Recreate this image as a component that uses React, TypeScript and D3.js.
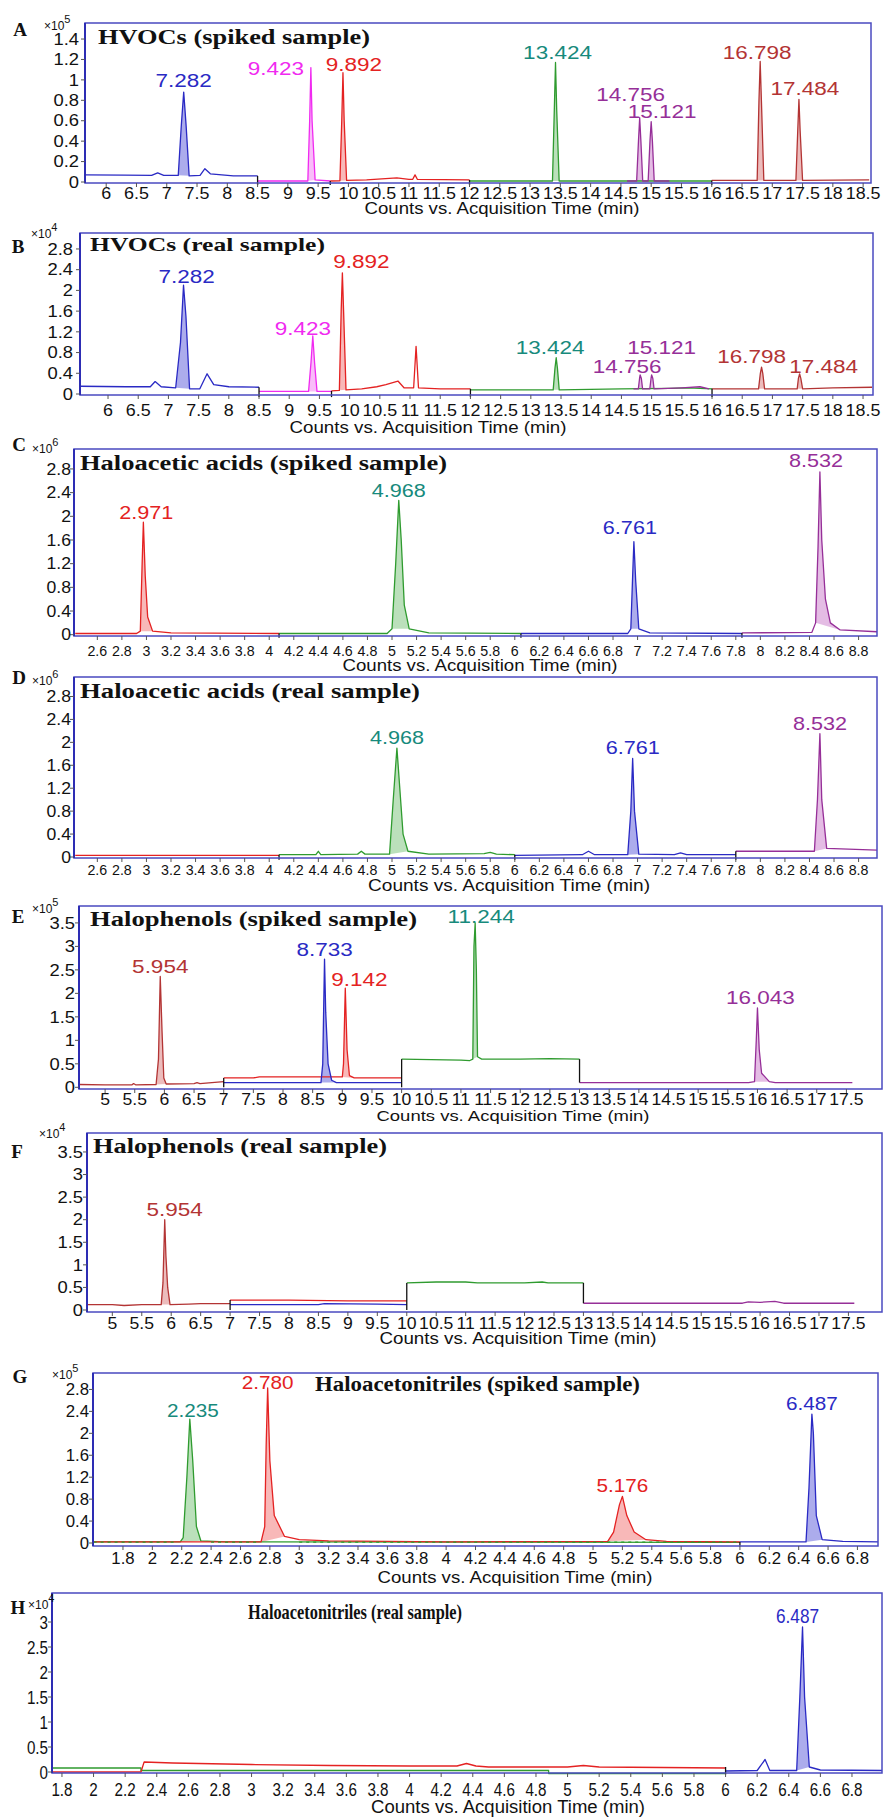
import React from 'react';
import * as d3 from 'd3';

type Pt = [number, number];
interface Trace { c: string; pts: Pt[]; dash?: string }
interface Peak { tr: number; t0: number; t1: number; label: string; lc: string }

const COL: Record<string, string> = {
  blue: '#2a2ac4', magenta: '#f02af0', red: '#e42222', green: '#2f9b2f', teal: '#178a7c',
  purple: '#962f98', brown: '#b33434', black: '#000000',
};
const FILL: Record<string, string> = {
  blue: '#9090e6', magenta: '#f7a6f7', red: '#f6a0a0', green: '#a4d6a4', purple: '#dba6db', brown: '#e6a6a6',
};

// ---------------- Panel A: HVOCs (spiked) x10^5 ----------------
const A_X_TICKS = [6, 6.5, 7, 7.5, 8, 8.5, 9, 9.5, 10, 10.5, 11, 11.5, 12, 12.5, 13, 13.5, 14, 14.5, 15, 15.5, 16, 16.5, 17, 17.5, 18, 18.5];
const A_Y_TICKS = [0, 0.2, 0.4, 0.6, 0.8, 1, 1.2, 1.4];
const A_TRACES: Trace[] = [
  { c: 'blue', pts: [[5.65, 0.07], [6.3, 0.068], [6.75, 0.065], [6.85, 0.09], [6.95, 0.065], [7.19, 0.065], [7.24, 0.55], [7.28, 0.88], [7.32, 0.55], [7.37, 0.06], [7.55, 0.065], [7.63, 0.13], [7.72, 0.08], [8.1, 0.06], [8.5, 0.06]] },
  { c: 'magenta', pts: [[8.5, 0.01], [9.33, 0.01], [9.36, 0.6], [9.38, 1.12], [9.40, 0.6], [9.45, 0.02], [9.7, 0.01]] },
  { c: 'red', pts: [[9.7, 0.01], [9.86, 0.012], [9.89, 0.6], [9.91, 1.07], [9.93, 0.6], [9.97, 0.015], [10.3, 0.02], [10.8, 0.04], [11.0, 0.025], [11.06, 0.025], [11.1, 0.07], [11.14, 0.025], [12, 0.02]] },
  { c: 'green', pts: [[12, 0.01], [13.37, 0.01], [13.40, 0.7], [13.42, 1.17], [13.44, 0.7], [13.48, 0.01], [16, 0.01]] },
  { c: 'purple', pts: [[14.6, 0.01], [14.76, 0.01], [14.79, 0.4], [14.81, 0.63], [14.83, 0.4], [14.86, 0.01], [14.95, 0.01], [14.98, 0.4], [15.0, 0.59], [15.02, 0.4], [15.05, 0.01], [15.3, 0.01]] },
  { c: 'brown', pts: [[16, 0.015], [16.75, 0.015], [16.78, 0.8], [16.8, 1.18], [16.82, 0.8], [16.86, 0.015], [17.39, 0.015], [17.42, 0.5], [17.44, 0.81], [17.46, 0.5], [17.5, 0.015], [18.6, 0.02]] },
];
const A_PEAKS: Peak[] = [
  { tr: 0, t0: 7.19, t1: 7.37, label: '7.282', lc: 'blue' },
  { tr: 1, t0: 9.33, t1: 9.45, label: '9.423', lc: 'magenta' },
  { tr: 2, t0: 9.86, t1: 9.97, label: '9.892', lc: 'red' },
  { tr: 3, t0: 13.37, t1: 13.48, label: '13.424', lc: 'teal' },
  { tr: 4, t0: 14.76, t1: 14.86, label: '14.756', lc: 'purple' },
  { tr: 4, t0: 14.95, t1: 15.05, label: '15.121', lc: 'purple' },
  { tr: 5, t0: 16.75, t1: 16.86, label: '16.798', lc: 'brown' },
  { tr: 5, t0: 17.39, t1: 17.5, label: '17.484', lc: 'brown' },
];
const A_STEPS: number[][] = [[8.5, 0.06, -0.03], [9.7, 0.01, -0.03], [12, 0.02, -0.03], [16, 0.015, -0.03]];

// ---------------- Panel B: HVOCs (real) x10^4 ----------------
const B_X_TICKS = A_X_TICKS;
const B_Y_TICKS = [0, 0.4, 0.8, 1.2, 1.6, 2, 2.4, 2.8];
const B_TRACES: Trace[] = [
  { c: 'blue', pts: [[5.54, 0.15], [6.3, 0.14], [6.7, 0.14], [6.78, 0.24], [6.88, 0.14], [7.12, 0.12], [7.2, 1.0], [7.25, 2.1], [7.29, 1.5], [7.35, 0.1], [7.52, 0.1], [7.64, 0.39], [7.75, 0.18], [8.0, 0.14], [8.5, 0.13]] },
  { c: 'magenta', pts: [[8.5, 0.05], [9.32, 0.05], [9.36, 0.6], [9.39, 1.12], [9.42, 0.6], [9.46, 0.05], [9.7, 0.05]] },
  { c: 'red', pts: [[9.7, 0.06], [9.83, 0.07], [9.86, 1.6], [9.88, 2.34], [9.9, 1.6], [9.94, 0.08], [10.2, 0.1], [10.45, 0.14], [10.6, 0.18], [10.8, 0.25], [10.9, 0.12], [11.06, 0.12], [11.1, 0.92], [11.14, 0.12], [11.5, 0.1], [12, 0.1]] },
  { c: 'green', pts: [[12, 0.08], [13.37, 0.08], [13.4, 0.5], [13.42, 0.7], [13.44, 0.5], [13.47, 0.08], [14.5, 0.1], [15.3, 0.11], [15.6, 0.12], [16, 0.1]] },
  { c: 'purple', pts: [[14.7, 0.1], [14.78, 0.1], [14.8, 0.3], [14.81, 0.37], [14.83, 0.3], [14.85, 0.1], [14.97, 0.1], [14.99, 0.3], [15.0, 0.37], [15.02, 0.3], [15.04, 0.1], [15.5, 0.12], [15.8, 0.14], [15.95, 0.1]] },
  { c: 'brown', pts: [[16, 0.1], [16.77, 0.1], [16.8, 0.4], [16.82, 0.52], [16.84, 0.4], [16.87, 0.1], [17.41, 0.1], [17.43, 0.3], [17.45, 0.39], [17.47, 0.3], [17.5, 0.1], [18.0, 0.12], [18.65, 0.13]] },
];
const B_PEAKS: Peak[] = [
  { tr: 0, t0: 7.12, t1: 7.35, label: '7.282', lc: 'blue' },
  { tr: 1, t0: 9.32, t1: 9.46, label: '9.423', lc: 'magenta' },
  { tr: 2, t0: 9.83, t1: 9.94, label: '9.892', lc: 'red' },
  { tr: 3, t0: 13.37, t1: 13.47, label: '13.424', lc: 'teal' },
  { tr: 4, t0: 14.78, t1: 14.85, label: '14.756', lc: 'purple' },
  { tr: 4, t0: 14.97, t1: 15.04, label: '15.121', lc: 'purple' },
  { tr: 5, t0: 16.77, t1: 16.87, label: '16.798', lc: 'brown' },
  { tr: 5, t0: 17.41, t1: 17.5, label: '17.484', lc: 'brown' },
];
const B_STEPS: number[][] = [[8.5, 0.13, -0.06], [9.7, 0.06, -0.06], [12, 0.1, -0.06], [16, 0.1, -0.06]];

// ---------------- Panel C: Haloacetic acids (spiked) x10^6 ----------------
const C_X_TICKS = [2.6, 2.8, 3, 3.2, 3.4, 3.6, 3.8, 4, 4.2, 4.4, 4.6, 4.8, 5, 5.2, 5.4, 5.6, 5.8, 6, 6.2, 6.4, 6.6, 6.8, 7, 7.2, 7.4, 7.6, 7.8, 8, 8.2, 8.4, 8.6, 8.8];
const C_Y_TICKS = [0, 0.4, 0.8, 1.2, 1.6, 2, 2.4, 2.8];
const C_TRACES: Trace[] = [
  { c: 'red', pts: [[2.42, 0.02], [2.92, 0.02], [2.95, 0.06], [2.965, 1.2], [2.975, 1.9], [2.99, 1.0], [3.01, 0.3], [3.05, 0.06], [3.2, 0.03], [4.08, 0.02]] },
  { c: 'green', pts: [[4.08, 0.02], [4.96, 0.02], [5.0, 0.1], [5.03, 1.2], [5.055, 2.27], [5.075, 1.6], [5.1, 0.5], [5.14, 0.1], [5.3, 0.03], [6.05, 0.02]] },
  { c: 'blue', pts: [[6.05, 0.02], [6.92, 0.02], [6.945, 0.1], [6.96, 1.0], [6.97, 1.57], [6.985, 0.9], [7.01, 0.1], [7.1, 0.03], [7.85, 0.02]] },
  { c: 'purple', pts: [[7.85, 0.03], [8.42, 0.04], [8.45, 0.2], [8.47, 1.5], [8.485, 2.75], [8.5, 1.6], [8.53, 0.6], [8.57, 0.2], [8.65, 0.08], [8.95, 0.05]] },
];
const C_PEAKS: Peak[] = [
  { tr: 0, t0: 2.95, t1: 3.05, label: '2.971', lc: 'red' },
  { tr: 1, t0: 5.0, t1: 5.14, label: '4.968', lc: 'teal' },
  { tr: 2, t0: 6.945, t1: 7.01, label: '6.761', lc: 'blue' },
  { tr: 3, t0: 8.45, t1: 8.65, label: '8.532', lc: 'purple' },
];
const C_STEPS: number[][] = [[4.08, 0.02, -0.05], [6.05, 0.02, -0.05], [7.85, 0.03, -0.05]];

// ---------------- Panel D: Haloacetic acids (real) x10^6 ----------------
const D_X_TICKS = C_X_TICKS;
const D_Y_TICKS = C_Y_TICKS;
const D_TRACES: Trace[] = [
  { c: 'red', pts: [[2.42, 0.03], [3.5, 0.03], [4.08, 0.03]] },
  { c: 'green', pts: [[4.08, 0.04], [4.38, 0.04], [4.4, 0.1], [4.42, 0.04], [4.72, 0.05], [4.75, 0.1], [4.78, 0.05], [4.98, 0.05], [5.01, 1.0], [5.04, 1.9], [5.06, 1.3], [5.09, 0.4], [5.13, 0.1], [5.3, 0.05], [5.75, 0.06], [5.8, 0.08], [5.85, 0.05], [6.0, 0.04]] },
  { c: 'blue', pts: [[6.0, 0.03], [6.55, 0.04], [6.6, 0.1], [6.65, 0.04], [6.92, 0.04], [6.945, 0.8], [6.96, 1.72], [6.975, 0.8], [7.01, 0.05], [7.3, 0.04], [7.35, 0.07], [7.4, 0.04], [7.8, 0.04]] },
  { c: 'purple', pts: [[7.8, 0.1], [8.44, 0.1], [8.465, 1.0], [8.485, 2.15], [8.5, 1.0], [8.54, 0.15], [8.95, 0.12]] },
];
const D_PEAKS: Peak[] = [
  { tr: 1, t0: 4.98, t1: 5.13, label: '4.968', lc: 'teal' },
  { tr: 2, t0: 6.92, t1: 7.01, label: '6.761', lc: 'blue' },
  { tr: 3, t0: 8.44, t1: 8.54, label: '8.532', lc: 'purple' },
];
const D_STEPS: number[][] = [[4.08, 0.04, -0.05], [6.0, 0.04, -0.05], [7.8, 0.1, -0.05]];

// ---------------- Panel E: Halophenols (spiked) x10^5 ----------------
const E_X_TICKS = [5, 5.5, 6, 6.5, 7, 7.5, 8, 8.5, 9, 9.5, 10, 10.5, 11, 11.5, 12, 12.5, 13, 13.5, 14, 14.5, 15, 15.5, 16, 16.5, 17, 17.5];
const E_Y_TICKS = [0, 0.5, 1, 1.5, 2, 2.5, 3, 3.5];
const E_TRACES: Trace[] = [
  { c: 'brown', pts: [[4.56, 0.06], [5.0, 0.05], [5.45, 0.05], [5.48, 0.08], [5.52, 0.05], [5.86, 0.06], [5.9, 0.6], [5.93, 2.36], [5.96, 1.2], [5.99, 0.2], [6.03, 0.07], [6.5, 0.08], [6.55, 0.1], [6.6, 0.08], [7.0, 0.12]] },
  { c: 'red', pts: [[7.0, 0.2], [7.5, 0.2], [7.6, 0.22], [8.5, 0.22], [9.0, 0.22], [9.02, 0.5], [9.05, 2.11], [9.08, 0.8], [9.12, 0.25], [9.2, 0.2], [10, 0.2]] },
  { c: 'blue', pts: [[7.0, 0.1], [8.64, 0.1], [8.67, 0.5], [8.69, 2.0], [8.7, 2.73], [8.72, 1.6], [8.76, 0.5], [8.82, 0.15], [8.9, 0.1], [10, 0.1]] },
  { c: 'green', pts: [[10, 0.6], [11.0, 0.58], [11.15, 0.57], [11.2, 0.6], [11.22, 3.0], [11.24, 3.5], [11.26, 2.5], [11.28, 0.65], [11.35, 0.6], [12, 0.6], [12.5, 0.61], [13, 0.6]] },
  { c: 'purple', pts: [[13, 0.1], [15.85, 0.1], [15.95, 0.12], [15.98, 1.0], [16.0, 1.69], [16.03, 0.8], [16.07, 0.3], [16.2, 0.12], [16.3, 0.1], [17.6, 0.1]] },
];
const E_PEAKS: Peak[] = [
  { tr: 0, t0: 5.86, t1: 6.03, label: '5.954', lc: 'brown' },
  { tr: 2, t0: 8.64, t1: 8.9, label: '8.733', lc: 'blue' },
  { tr: 1, t0: 9.0, t1: 9.2, label: '9.142', lc: 'red' },
  { tr: 3, t0: 11.2, t1: 11.28, label: '11.244', lc: 'teal' },
  { tr: 4, t0: 15.95, t1: 16.2, label: '16.043', lc: 'purple' },
];
const E_STEPS: number[][] = [[7, 0, 0.2], [10, 0, 0.6], [13, 0.1, 0.6]];

// ---------------- Panel F: Halophenols (real) x10^4 ----------------
const F_X_TICKS = E_X_TICKS;
const F_Y_TICKS = E_Y_TICKS;
const F_TRACES: Trace[] = [
  { c: 'brown', pts: [[4.57, 0.12], [5.0, 0.12], [5.2, 0.1], [5.5, 0.12], [5.83, 0.12], [5.86, 0.6], [5.89, 2.0], [5.91, 1.2], [5.94, 0.5], [5.98, 0.12], [6.3, 0.13], [6.5, 0.14], [7.0, 0.14]] },
  { c: 'red', pts: [[7.0, 0.22], [8.0, 0.22], [9.0, 0.2], [10.0, 0.2]] },
  { c: 'blue', pts: [[7.0, 0.12], [8.5, 0.12], [8.6, 0.14], [9.5, 0.13], [10.0, 0.12]] },
  { c: 'green', pts: [[10, 0.6], [10.5, 0.62], [11.0, 0.62], [11.2, 0.6], [12.0, 0.6], [12.3, 0.62], [12.4, 0.6], [13, 0.6]] },
  { c: 'purple', pts: [[13, 0.15], [15.7, 0.15], [15.8, 0.18], [16.0, 0.17], [16.25, 0.19], [16.4, 0.15], [17.6, 0.15]] },
];
const F_PEAKS: Peak[] = [{ tr: 0, t0: 5.83, t1: 5.98, label: '5.954', lc: 'brown' }];
const F_STEPS: number[][] = [[7, 0, 0.22], [10, 0, 0.6], [13, 0.15, 0.6]];

// ---------------- Panel G: Haloacetonitriles (spiked) x10^5 ----------------
const G_X_TICKS = [1.8, 2, 2.2, 2.4, 2.6, 2.8, 3, 3.2, 3.4, 3.6, 3.8, 4, 4.2, 4.4, 4.6, 4.8, 5, 5.2, 5.4, 5.6, 5.8, 6, 6.2, 6.4, 6.6, 6.8];
const G_Y_TICKS = [0, 0.4, 0.8, 1.2, 1.6, 2, 2.4, 2.8];
const G_TRACES: Trace[] = [
  { c: 'green', pts: [[1.6, 0.02], [2.19, 0.02], [2.21, 0.1], [2.235, 1.2], [2.255, 2.26], [2.275, 1.5], [2.3, 0.3], [2.33, 0.04], [2.5, 0.02], [6.0, 0.01]] },
  { c: 'red', pts: [[1.6, 0.02], [2.74, 0.02], [2.765, 0.3], [2.775, 1.8], [2.785, 2.83], [2.8, 1.5], [2.83, 0.5], [2.9, 0.12], [3.0, 0.06], [3.2, 0.04], [4.0, 0.02], [5.1, 0.03], [5.14, 0.2], [5.18, 0.7], [5.2, 0.85], [5.23, 0.5], [5.28, 0.2], [5.36, 0.06], [5.5, 0.03], [6.0, 0.02]] },
  { c: 'blue', pts: [[6.0, 0.02], [6.45, 0.02], [6.47, 1.0], [6.49, 2.35], [6.5, 2.0], [6.52, 0.5], [6.56, 0.06], [6.7, 0.03], [6.94, 0.02]] },
  { c: 'green', dash: '3 4', pts: [[1.6, 0.015], [2.15, 0.015]] },
  { c: 'green', dash: '3 4', pts: [[2.4, 0.015], [2.72, 0.015]] },
  { c: 'green', dash: '3 4', pts: [[3.0, 0.015], [6.0, 0.015]] },
];
const G_PEAKS: Peak[] = [
  { tr: 0, t0: 2.19, t1: 2.33, label: '2.235', lc: 'teal' },
  { tr: 1, t0: 2.74, t1: 2.9, label: '2.780', lc: 'red' },
  { tr: 1, t0: 5.1, t1: 5.36, label: '5.176', lc: 'red' },
  { tr: 2, t0: 6.45, t1: 6.56, label: '6.487', lc: 'blue' },
];
const G_STEPS: number[][] = [[6, 0.02, -0.05]];

// ---------------- Panel H: Haloacetonitriles (real) x10^4 ----------------
const H_X_TICKS = G_X_TICKS;
const H_Y_TICKS = [0, 0.5, 1, 1.5, 2, 2.5, 3];
const H_TRACES: Trace[] = [
  { c: 'green', pts: [[1.74, 0.08], [2.3, 0.08], [2.3, 0.03], [4.88, 0.03], [4.88, -0.03], [6, -0.03]] },
  { c: 'red', pts: [[1.74, 0.0], [2.3, 0.0], [2.32, 0.2], [2.5, 0.18], [3.0, 0.15], [3.5, 0.13], [4.0, 0.12], [4.3, 0.12], [4.36, 0.17], [4.42, 0.12], [4.5, 0.1], [5.0, 0.1], [5.1, 0.13], [5.2, 0.1], [6, 0.08]] },
  { c: 'blue', pts: [[6, 0.02], [6.2, 0.03], [6.25, 0.25], [6.28, 0.03], [6.45, 0.03], [6.47, 1.5], [6.487, 2.9], [6.5, 1.5], [6.53, 0.1], [6.6, 0.04], [6.99, 0.03]] },
];
const H_PEAKS: Peak[] = [{ tr: 2, t0: 6.45, t1: 6.53, label: '6.487', lc: 'blue' }];
const H_STEPS: number[][] = [[6, -0.05, 0.1]];

// ---------------- layout (positions / styles only) ----------------
const SANS = 'Liberation Sans, Arial, Helvetica, sans-serif';
const SERIF = 'Liberation Serif, Times New Roman, serif';

interface Layout {
  box: { l: number; t: number; r: number; b: number };
  y0: number; yMax: number; xDom: [number, number];
  letter: string; letterPos: [number, number];
  exp: string; expPos: [number, number];
  title: string; titlePos: [number, number]; titleLen: number; titleSize: number;
  yLabR: number; xLabY: number; countsPos: [number, number]; countsLen: number;
  ySx: number; ySize: number; xSx: number; xSize: number; labSize: number; labSx: number; cSize: number;
  offs: number[][];
}

const PANELS: { L: Layout; xt: number[]; yt: number[]; tr: Trace[]; pk: Peak[]; st: number[][] }[] = [
  {
    xt: A_X_TICKS, yt: A_Y_TICKS, tr: A_TRACES, pk: A_PEAKS, st: A_STEPS,
    L: { box: { l: 85, t: 23, r: 871, b: 183 }, y0: 182, yMax: 1.557, xDom: [5.65, 18.63], letter: 'A', letterPos: [20, 36], exp: '5', expPos: [44, 30],
      title: 'HVOCs (spiked sample)', titlePos: [98, 44], titleLen: 272, titleSize: 20, yLabR: 79, xLabY: 199, countsPos: [502, 214], countsLen: 275,
      ySx: 1.15, ySize: 16, xSx: 1.12, xSize: 16, labSize: 18, labSx: 1.25, cSize: 16,
      offs: [[0, -5.5], [-35, 7.5], [11, -1.5], [2, -3.5], [-9, -16.5], [11, -3.5], [-3, -2.5], [6, -4.5]] },
  },
  {
    xt: B_X_TICKS, yt: B_Y_TICKS, tr: B_TRACES, pk: B_PEAKS, st: B_STEPS,
    L: { box: { l: 80, t: 233, r: 873, b: 395 }, y0: 394, yMax: 3.108, xDom: [5.536, 18.665], letter: 'B', letterPos: [18, 253], exp: '4', expPos: [31, 238],
      title: 'HVOCs (real sample)', titlePos: [90, 251], titleLen: 235, titleSize: 19, yLabR: 73, xLabY: 416, countsPos: [428, 433], countsLen: 277,
      ySx: 1.15, ySize: 16, xSx: 1.12, xSize: 16, labSize: 18, labSx: 1.25, cSize: 16,
      offs: [[3, -2.5], [-10, -0.5], [19, -4.5], [-6, -3.5], [-13, -1.5], [10, -20.5], [-10, -4.5], [24, -0.5]] },
  },
  {
    xt: C_X_TICKS, yt: C_Y_TICKS, tr: C_TRACES, pk: C_PEAKS, st: C_STEPS,
    L: { box: { l: 74, t: 449, r: 877, b: 636 }, y0: 634.7, yMax: 3.137, xDom: [2.41, 8.95], letter: 'C', letterPos: [19, 451], exp: '6', expPos: [32, 453],
      title: 'Haloacetic acids (spiked sample)', titlePos: [80, 470], titleLen: 367, titleSize: 20, yLabR: 71, xLabY: 656, countsPos: [480, 671], countsLen: 275,
      ySx: 1.1, ySize: 16, xSx: 0.95, xSize: 15, labSize: 18, labSx: 1.2, cSize: 16,
      offs: [[3, -3], [0, -3.8], [-4, -7.3], [-4, -4.5]] },
  },
  {
    xt: D_X_TICKS, yt: D_Y_TICKS, tr: D_TRACES, pk: D_PEAKS, st: D_STEPS,
    L: { box: { l: 74, t: 677, r: 877, b: 858 }, y0: 857, yMax: 3.14, xDom: [2.41, 8.95], letter: 'D', letterPos: [19, 684], exp: '6', expPos: [32, 685],
      title: 'Haloacetic acids (real sample)', titlePos: [80, 698], titleLen: 340, titleSize: 20, yLabR: 71, xLabY: 875, countsPos: [509, 891], countsLen: 282,
      ySx: 1.1, ySize: 16, xSx: 0.95, xSize: 15, labSize: 18, labSx: 1.2, cSize: 16,
      offs: [[0, -4], [0, -4], [0, -4]] },
  },
  {
    xt: E_X_TICKS, yt: E_Y_TICKS, tr: E_TRACES, pk: E_PEAKS, st: E_STEPS,
    L: { box: { l: 79, t: 906, r: 882, b: 1089 }, y0: 1087.3, yMax: 3.86, xDom: [4.56, 18.1], letter: 'E', letterPos: [18, 923], exp: '5', expPos: [32, 913],
      title: 'Halophenols (spiked sample)', titlePos: [90, 926], titleLen: 327, titleSize: 20, yLabR: 75, xLabY: 1104.5, countsPos: [513, 1121], countsLen: 273,
      ySx: 1.15, ySize: 16, xSx: 1.1, xSize: 16, labSize: 18, labSx: 1.25, cSize: 15,
      offs: [[0, -3], [0, -3], [14, -2], [6, 0.5], [3, -3.5]] },
  },
  {
    xt: F_X_TICKS, yt: F_Y_TICKS, tr: F_TRACES, pk: F_PEAKS, st: F_STEPS,
    L: { box: { l: 87, t: 1133, r: 882, b: 1312 }, y0: 1310, yMax: 3.92, xDom: [4.57, 18.07], letter: 'F', letterPos: [17, 1158], exp: '4', expPos: [39, 1138],
      title: 'Halophenols (real sample)', titlePos: [93, 1153], titleLen: 294, titleSize: 20, yLabR: 83, xLabY: 1329, countsPos: [518, 1344], countsLen: 277,
      ySx: 1.15, ySize: 16, xSx: 1.1, xSize: 16, labSize: 18, labSx: 1.25, cSize: 16,
      offs: [[10, -3.5]] },
  },
  {
    xt: G_X_TICKS, yt: G_Y_TICKS, tr: G_TRACES, pk: G_PEAKS, st: G_STEPS,
    L: { box: { l: 93, t: 1373, r: 878, b: 1546 }, y0: 1543, yMax: 3.1, xDom: [1.596, 6.94], letter: 'G', letterPos: [20, 1383], exp: '5', expPos: [52, 1379],
      title: 'Haloacetonitriles (spiked sample)', titlePos: [315, 1391], titleLen: 325, titleSize: 20, yLabR: 89, xLabY: 1564, countsPos: [515, 1583], countsLen: 275,
      ySx: 1.05, ySize: 16, xSx: 1.05, xSize: 16, labSize: 18, labSx: 1.15, cSize: 16,
      offs: [[3, -2.5], [0, 1.5], [0, -4], [0, -4]] },
  },
  {
    xt: H_X_TICKS, yt: H_Y_TICKS, tr: H_TRACES, pk: H_PEAKS, st: H_STEPS,
    L: { box: { l: 52, t: 1593, r: 882, b: 1773 }, y0: 1772, yMax: 3.58, xDom: [1.737, 6.99], letter: 'H', letterPos: [18, 1614], exp: '4', expPos: [28, 1609],
      title: 'Haloacetonitriles (real sample)', titlePos: [248, 1619], titleLen: 214, titleSize: 21, yLabR: 48, xLabY: 1796, countsPos: [508, 1813], countsLen: 274,
      ySx: 0.8, ySize: 19, xSx: 0.8, xSize: 19, labSize: 21, labSx: 0.82, cSize: 18,
      offs: [[-5, -4]] },
  },
];

function Panel({ p, idx }: { p: (typeof PANELS)[number]; idx: number }) {
  const { L } = p;
  const x = d3.scaleLinear().domain(L.xDom).range([L.box.l, L.box.r]);
  const y = d3.scaleLinear().domain([0, L.yMax]).range([L.y0, L.box.t]);
  const line = d3.line<Pt>().x((d) => x(d[0])).y((d) => y(d[1]));
  const clipId = `clip${idx}`;
  const fmt = (v: number) => String(v);
  return (
    <g>
      <defs>
        <clipPath id={clipId}>
          <rect x={L.box.l} y={L.box.t} width={L.box.r - L.box.l} height={L.box.b - L.box.t + 4} />
        </clipPath>
      </defs>
      <g clipPath={`url(#${clipId})`}>
        {p.pk.map((k, i) => {
          const pts = p.tr[k.tr].pts.filter((d) => d[0] >= k.t0 && d[0] <= k.t1);
          return <path key={i} d={(line(pts) || '') + 'Z'} fill={FILL[p.tr[k.tr].c]} opacity={0.75} stroke="none" />;
        })}
        {p.tr.map((t, i) => (
          <path key={i} d={line(t.pts) || ''} fill="none" stroke={COL[t.c]} strokeWidth={1.3} strokeDasharray={t.dash} strokeLinejoin="round" />
        ))}
      </g>
      {p.st.map((s, i) => (
        <line key={i} x1={x(s[0])} x2={x(s[0])} y1={y(s[1])} y2={y(s[2])} stroke="#111" strokeWidth={1.3} />
      ))}
      <rect x={L.box.l} y={L.box.t} width={L.box.r - L.box.l} height={L.box.b - L.box.t} fill="none" stroke="#4a4ac0" strokeWidth={1.5} />
      <line x1={L.box.l} x2={L.box.l} y1={L.box.t} y2={L.box.b} stroke="#2d2db4" strokeWidth={2} />
      {p.yt.map((v, i) => (
        <g key={i}>
          <line x1={L.box.l - 4} x2={L.box.l} y1={y(v)} y2={y(v)} stroke="#555" strokeWidth={1} />
          <text transform={`translate(${L.yLabR},${y(v) + L.ySize * 0.36}) scale(${L.ySx},1)`} textAnchor="end" fontSize={L.ySize} fontFamily={SANS} fill="#111">{fmt(v)}</text>
        </g>
      ))}
      {p.xt.map((v, i) => (
        <g key={i}>
          <line x1={x(v)} x2={x(v)} y1={L.box.b} y2={L.box.b + 4} stroke="#555" strokeWidth={1} />
          <text transform={`translate(${x(v)},${L.xLabY}) scale(${L.xSx},1)`} textAnchor="middle" fontSize={L.xSize} fontFamily={SANS} fill="#111">{fmt(v)}</text>
        </g>
      ))}
      {p.pk.map((k, i) => {
        const pts = p.tr[k.tr].pts.filter((d) => d[0] >= k.t0 && d[0] <= k.t1);
        const apex = pts.reduce((a, b) => (b[1] > a[1] ? b : a), pts[0]);
        const o = L.offs[i] || [0, -4];
        return (
          <text key={i} transform={`translate(${x(apex[0]) + o[0]},${y(apex[1]) + o[1]}) scale(${L.labSx},1)`} textAnchor="middle" fontSize={L.labSize} fontFamily={SANS} fill={COL[k.lc]}>{k.label}</text>
        );
      })}
      <text x={L.letterPos[0]} y={L.letterPos[1]} textAnchor="middle" fontSize={19} fontWeight={700} fontFamily={SERIF} fill="#111">{L.letter}</text>
      <text x={L.expPos[0]} y={L.expPos[1]} fontSize={12} fontFamily={SANS} fill="#111">×10<tspan dy={-7} fontSize={11}>{L.exp}</tspan></text>
      <text x={L.titlePos[0]} y={L.titlePos[1]} fontSize={L.titleSize} fontWeight={700} fontFamily={SERIF} fill="#111" textLength={L.titleLen} lengthAdjust="spacingAndGlyphs">{L.title}</text>
      <text x={L.countsPos[0] - L.countsLen / 2} y={L.countsPos[1]} fontSize={L.cSize} fontFamily={SANS} fill="#111" textLength={L.countsLen} lengthAdjust="spacingAndGlyphs">Counts vs. Acquisition Time (min)</text>
    </g>
  );
}

export default function App() {
  return (
    <svg width={890} height={1818} viewBox="0 0 890 1818" style={{ position: 'absolute', left: 0, top: 0, background: '#fff' }}>
      <rect x={0} y={0} width={890} height={1818} fill="#fff" />
      {PANELS.map((p, i) => <Panel key={i} p={p} idx={i} />)}
    </svg>
  );
}
